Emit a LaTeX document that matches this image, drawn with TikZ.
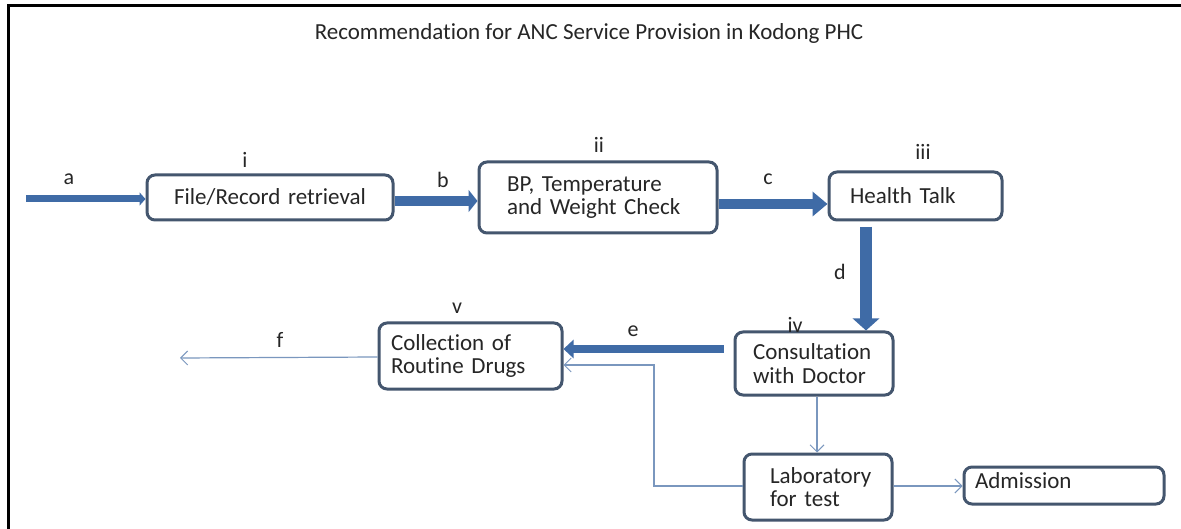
\documentclass[tikz,border=0pt]{standalone}
\usepackage{fontspec}
\setmainfont{Carlito}[Ligatures=NoCommon]
\usetikzlibrary{arrows.meta}
\definecolor{boxline}{HTML}{44566E}
\definecolor{thick}{HTML}{3F6BA6}
\definecolor{thin}{HTML}{7A97BE}
\begin{document}
\begin{tikzpicture}[x=1pt,y=-1pt,
  box/.style={draw=boxline, line width=3pt, rounded corners=8pt, fill=white,
    font=\fontsize{23}{23.5}\selectfont, align=left, inner ysep=0pt, text=black!85},
  lbl/.style={font=\fontsize{22}{24}\selectfont, inner sep=0pt, text=black!85},
  bigarrow/.style={draw=thick, line width=#1},
  thinarrow/.style={draw=thin, line width=1.2pt, -{Straight Barb[length=7pt,width=14pt,line width=1pt]}}
]
\useasboundingbox (0,0) rectangle (1181,529);
\fill[white] (0,0) rectangle (1181,529);
% frame
\draw[black, line width=3pt] (8,529) -- (8,6) -- (1181,6);
% title
\node[font=\fontsize{23}{26}\selectfont, text=black!85] (title) at (589,33) {Recommendation for ANC Service Provision in Kodong PHC};
% boxes
\node[box, minimum width=246pt, minimum height=45pt, text width=220pt, inner xsep=13pt, align=center] (fr) at (270,197.5) {File/Record retrieval};
\node[box, minimum width=238pt, minimum height=71pt, text width=182pt, inner xsep=28pt] (bp) at (598,197.5) {BP, Temperature\\and Weight Check};
\node[box, minimum width=173pt, minimum height=48pt, text width=131pt, inner xsep=21pt] (ht) at (915.5,196) {Health Talk};
\node[box, minimum width=158pt, minimum height=63pt, text width=122pt, inner xsep=18pt] (cd) at (814,363.5) {Consultation\\with Doctor};
\node[box, minimum width=183pt, minimum height=66pt, text width=159pt, inner xsep=12pt] (rd) at (470.5,356) {Collection of\\Routine Drugs};
\node[box, minimum width=148pt, minimum height=66pt, text width=122pt, inner xsep=13pt] (lab) at (818,487) {\hspace*{13pt}Laboratory\\\hspace*{13pt}for test};
\node[box, minimum width=200pt, minimum height=37pt, text width=178pt, inner xsep=11pt, text depth=10pt] (adm) at (1064,485.5) {Admission};
% coordinates
\coordinate (start) at (26,199);
\coordinate (fend) at (180,358);
\coordinate (bend) at (654,365);
% thick arrows
\draw[bigarrow=7pt, -{Triangle[length=6pt,width=13pt]}] (start) -- (fr.west |- start);
\draw[bigarrow=10pt, -{Triangle[length=9pt,width=22pt]}] (fr.east |- 0,201) -- (bp.west |- 0,201);
\draw[bigarrow=10pt, -{Triangle[length=15pt,width=24pt]}] (bp.east |- 0,204) -- (ht.west |- 0,204);
\draw[bigarrow=12pt, -{Triangle[length=12pt,width=26pt]}] (866,227) -- (866,0 |- cd.north);
\draw[bigarrow=8pt, -{Triangle[length=10pt,width=18pt]}] (cd.west |- 0,349) ++(-10,0) -- (rd.east |- 0,349);
% thin arrows
\draw[thinarrow] (rd.west |- 0,357) -- (fend);
\draw[thinarrow] (817,0 |- cd.south) -- (817,0 |- lab.north);
\draw[thinarrow] (lab.west |- 0,486) -| (bend) -- (rd.east |- bend);
\draw[thinarrow] (lab.east |- 0,486) -- (adm.west |- 0,486);
% labels
\node[lbl] (la) at (69,179) {a};
\node[lbl] (li) at (245,160) {i};
\node[lbl] (lb) at (443,180) {b};
\node[lbl] (lii) at (599,145) {ii};
\node[lbl] (lc) at (768,179) {c};
\node[lbl] (liii) at (923,152) {iii};
\node[lbl] (ld) at (840,272) {d};
\node[lbl] (liv) at (795,325) {iv};
\node[lbl] (lv) at (457,308) {v};
\node[lbl] (le) at (633,331) {e};
\node[lbl] (lf) at (280,340) {f};
\end{tikzpicture}
\end{document}
